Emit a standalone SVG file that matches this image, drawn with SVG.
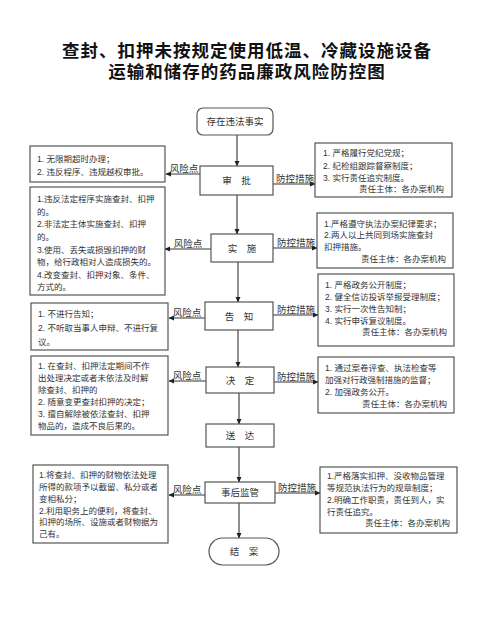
<svg xmlns="http://www.w3.org/2000/svg" width="501" height="642" viewBox="0 0 501 642">
<defs>
<marker id="ah" markerWidth="6" markerHeight="6" refX="5" refY="3" orient="auto" markerUnits="userSpaceOnUse">
<path d="M0,0.5 L5.5,3 L0,5.5 Z" fill="#222"/>
</marker>
<style>
text{font-family:"Liberation Sans","Noto Sans CJK SC",sans-serif;fill:#333}
.title{font-size:17.5px;font-weight:bold;fill:#111;text-anchor:middle;letter-spacing:1px}
.box{fill:#fff;stroke:#555;stroke-width:1.2}
.t{font-size:8.5px}
.n{font-size:9.5px;text-anchor:middle}
.lb{font-size:9.5px;text-anchor:middle}
.r{text-anchor:end}
.c{stroke:#333;stroke-width:1.1;fill:none;marker-end:url(#ah)}
</style>
</defs>
<rect width="501" height="642" fill="#fff"/>
<text class="title" x="247" y="57">查封、扣押未按规定使用低温、冷藏设施设备</text>
<text class="title" x="247" y="77.5">运输和储存的药品廉政风险防控图</text>

<g id="connectors">
<line class="c" x1="237" y1="135" x2="237" y2="166"/>
<line class="c" x1="237" y1="195" x2="237" y2="234"/>
<line class="c" x1="238" y1="262" x2="238" y2="302"/>
<line class="c" x1="238" y1="330" x2="238" y2="367"/>
<line class="c" x1="239" y1="393" x2="239" y2="424"/>
<line class="c" x1="239" y1="447" x2="239" y2="482"/>
<line class="c" x1="239" y1="503" x2="239" y2="538"/>
<line class="c" x1="200" y1="174" x2="166" y2="174"/>
<line class="c" x1="273" y1="184" x2="315" y2="184"/>
<line class="c" x1="211" y1="249" x2="165" y2="249"/>
<line class="c" x1="273" y1="248" x2="317" y2="248"/>
<line class="c" x1="205" y1="318" x2="169" y2="318"/>
<line class="c" x1="273" y1="315" x2="318" y2="315"/>
<line class="c" x1="206" y1="381" x2="169" y2="381"/>
<line class="c" x1="274" y1="382" x2="318" y2="382"/>
<line class="c" x1="205" y1="495" x2="169" y2="495"/>
<line class="c" x1="275" y1="493" x2="320" y2="493"/>
<text class="lb" x="184" y="171.5">风险点</text>
<text class="lb" x="295" y="181.5">防控措施</text>
<text class="lb" x="188" y="246.5">风险点</text>
<text class="lb" x="296" y="245.5">防控措施</text>
<text class="lb" x="187" y="315.5">风险点</text>
<text class="lb" x="296" y="312.5">防控措施</text>
<text class="lb" x="187" y="378.5">风险点</text>
<text class="lb" x="296" y="379.5">防控措施</text>
<text class="lb" x="187" y="492.5">风险点</text>
<text class="lb" x="297" y="490.5">防控措施</text>
</g>

<g id="start">
<rect class="box" x="197" y="108" width="76" height="27" rx="6"/>
<text class="n" x="235" y="125">存在违法事实</text>
</g>
<g id="shenpi">
<rect class="box" x="200" y="166" width="73" height="29"/>
<text class="n" x="236.5" y="184">审　批</text>
</g>
<g id="shishi">
<rect class="box" x="211" y="234" width="62" height="28"/>
<text class="n" x="242" y="251.5">实　施</text>
</g>
<g id="gaozhi">
<rect class="box" x="205" y="302" width="68" height="28"/>
<text class="n" x="239" y="319.5">告　知</text>
</g>
<g id="jueding">
<rect class="box" x="206" y="367" width="68" height="26"/>
<text class="n" x="240" y="383.5">决　定</text>
</g>
<g id="songda">
<rect class="box" x="206" y="424" width="68" height="23"/>
<text class="n" x="240" y="439">送　达</text>
</g>
<g id="shihou">
<rect class="box" x="205" y="482" width="70" height="21"/>
<text class="n" x="240" y="496">事后监管</text>
</g>
<g id="jiean">
<rect class="box" x="209" y="538" width="70" height="27" rx="13.5"/>
<text class="n" x="244" y="555">结　案</text>
</g>

<g id="risk1">
<rect class="box" x="30" y="146" width="135" height="36"/>
<text class="t" x="37" y="162">1. 无限期超时办理；</text>
<text class="t" x="37" y="175">2. 违反程序、违规越权审批。</text>
</g>
<g id="risk2">
<rect class="box" x="30" y="187" width="135" height="108"/>
<text class="t" x="37" y="202">1.违反法定程序实施查封、扣押</text>
<text class="t" x="37" y="215">的。</text>
<text class="t" x="37" y="227">2.非法定主体实施查封、扣押</text>
<text class="t" x="37" y="240">的。</text>
<text class="t" x="37" y="253">3.使用、丢失或损毁扣押的财</text>
<text class="t" x="37" y="265">物，给行政相对人造成损失的。</text>
<text class="t" x="37" y="278">4.改变查封、扣押对象、条件、</text>
<text class="t" x="37" y="290">方式的。</text>
</g>
<g id="risk3">
<rect class="box" x="31" y="303" width="137" height="47"/>
<text class="t" x="38" y="317">1.  不进行告知；</text>
<text class="t" x="38" y="331">2. 不听取当事人申辩、不进行复</text>
<text class="t" x="38" y="345">议。</text>
</g>
<g id="risk4">
<rect class="box" x="31" y="356" width="137" height="79"/>
<text class="t" x="38" y="369">1. 在查封、扣押法定期间不作</text>
<text class="t" x="38" y="381">出处理决定或者未依法及时解</text>
<text class="t" x="38" y="393">除查封、扣押的</text>
<text class="t" x="38" y="405">2. 随意变更查封扣押的决定；</text>
<text class="t" x="38" y="417">3. 擅自解除被依法查封、扣押</text>
<text class="t" x="38" y="429">物品的，造成不良后果的。</text>
</g>
<g id="risk5">
<rect class="box" x="33" y="465" width="135" height="78"/>
<text class="t" x="39" y="478">1.将查封、扣押的财物依法处理</text>
<text class="t" x="39" y="490">所得的款项予以截留、私分或者</text>
<text class="t" x="39" y="502">变相私分；</text>
<text class="t" x="39" y="514">2.利用职务上的便利，将查封、</text>
<text class="t" x="39" y="525">扣押的场所、设施或者财物据为</text>
<text class="t" x="39" y="537">己有。</text>
</g>

<g id="ctrl1">
<rect class="box" x="315" y="143" width="137" height="54"/>
<text class="t" x="323" y="156">1.  严格履行党纪党规；</text>
<text class="t" x="323" y="169">2.  纪检组跟踪督察制度；</text>
<text class="t" x="323" y="181">3.  实行责任追究制度。</text>
<text class="t r" x="444" y="192">责任主体：各办案机构</text>
</g>
<g id="ctrl2">
<rect class="box" x="317" y="213" width="136" height="55"/>
<text class="t" x="324" y="227">1.严格遵守执法办案纪律要求；</text>
<text class="t" x="324" y="238">2.两人以上共同到场实施查封</text>
<text class="t" x="324" y="250">扣押措施。</text>
<text class="t r" x="446" y="262">责任主体：各办案机构</text>
</g>
<g id="ctrl3">
<rect class="box" x="318" y="274" width="136" height="72"/>
<text class="t" x="325" y="288">1.  严格政务公开制度；</text>
<text class="t" x="325" y="300">2.  健全信访投诉举报受理制度；</text>
<text class="t" x="325" y="312">3.  实行一次性告知制；</text>
<text class="t" x="325" y="324">4.  实行申诉复议制度。</text>
<text class="t r" x="447" y="335">责任主体：各办案机构</text>
</g>
<g id="ctrl4">
<rect class="box" x="318" y="357" width="136" height="56"/>
<text class="t" x="325" y="371">1.  通过案卷评查、执法检查等</text>
<text class="t" x="325" y="383">加强对行政强制措施的监督；</text>
<text class="t" x="325" y="395">2.  加强政务公开。</text>
<text class="t r" x="447" y="407">责任主体：各办案机构</text>
</g>
<g id="ctrl5">
<rect class="box" x="320" y="467" width="137" height="66"/>
<text class="t" x="327" y="479">1.严格落实扣押、没收物品管理</text>
<text class="t" x="327" y="491">等规范执法行为的规章制度；</text>
<text class="t" x="327" y="503">2.明确工作职责，责任到人，实</text>
<text class="t" x="327" y="515">行责任追究。</text>
<text class="t r" x="450" y="526">责任主体：各办案机构</text>
</g>
</svg>
